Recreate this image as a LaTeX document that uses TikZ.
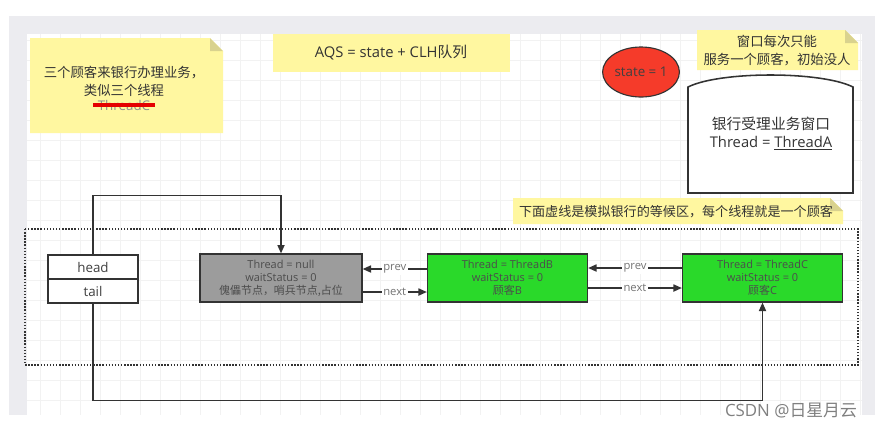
\documentclass[tikz,border=0pt]{standalone}
\usepackage{fontspec}
\setmainfont{Open Sans}
\newfontfamily\cjk{Noto Sans CJK SC}
\usetikzlibrary{arrows.meta,positioning,shapes.geometric}
\definecolor{notey}{HTML}{FFF7A0}
\definecolor{foldy}{HTML}{D9D28E}
\definecolor{frameg}{HTML}{ECECF0}
\definecolor{linegray}{HTML}{333333}
\definecolor{nodegreen}{HTML}{2AD92A}
\definecolor{nodegray}{HTML}{9C9C9C}
\definecolor{statered}{HTML}{F53B2A}
\begin{document}
\begin{tikzpicture}[
    x=0.025cm, y=-0.025cm,
    gridline/.style={draw=black!5, line width=0.4pt},
    notetext/.style={align=center, text=black!80, font=\fontsize{9.5}{12.8}\selectfont\cjk},
    cell/.style={draw=linegray, line width=0.8pt, fill=white, minimum width=2.25cm, minimum height=0.6cm, inner sep=0pt, font=\fontsize{9.5}{12}\selectfont, text=black!75},
    qnode/.style={draw=linegray, line width=0.8pt, minimum width=4cm, minimum height=1.2cm, align=center, text=black!70, font=\fontsize{7.8}{9.3}\selectfont},
    link/.style={draw=linegray, line width=1.1pt, -{Triangle[length=6pt,width=5pt]}},
    linklabel/.style={fill=white, inner sep=1pt, text=black!55, font=\fontsize{8}{9}\selectfont}
]
\useasboundingbox (0,0) rectangle (875,430);
\fill[white] (0,0) rectangle (875,430);
\fill[frameg] (9,16) rectangle (875,415);
\fill[white] (27,34) rectangle (862,415);
% faint canvas grid
\foreach \gx in {40,60,...,860} {
    \draw[gridline] (\gx,34) -- (\gx,415);
}
\foreach \gy in {40,60,...,410} {
    \draw[gridline] (27,\gy) -- (862,\gy);
}

% sticky notes
\fill[notey] (273,34) rectangle (510,72);
\foreach \xa/\ya/\xb/\yb in {30/38/223/133, 697/30/858/70, 513/198/843/224} {
    \fill[notey] (\xa,\ya) -- (\xb-13,\ya) -- (\xb,\ya+13) -- (\xb,\yb) -- (\xa,\yb) -- cycle;
    \fill[foldy] (\xb-13,\ya) -- (\xb-13,\ya+13) -- (\xb,\ya+13) -- cycle;
}
\node[notetext] (customers) at (124,81) {三个顾客来银行办理业务，\\类似三个线程};
\node[notetext, text=black!45, inner sep=1pt, font=\fontsize{9.5}{12}\selectfont] (threadc) at (124,105) {ThreadC};
\draw[red!90!black, line width=2.2pt] ([xshift=-2pt]threadc.west) -- ([xshift=2pt]threadc.east);
\node[notetext, font=\fontsize{10.5}{12}\selectfont] (aqs) at (391,53) {AQS = state + CLH{\cjk 队列}};
\node[notetext] (onlyone) at (777,51) {窗口每次只能\\服务一个顾客，初始没人};
\node[notetext, font=\fontsize{9.3}{11}\selectfont\cjk] (waitarea) at (676,212) {下面虚线是模拟银行的等候区，每个线程就是一个顾客};

% state and the window
\node[ellipse, draw=linegray, line width=0.8pt, fill=statered, minimum width=1.92cm, minimum height=1.25cm, inner sep=0pt, font=\fontsize{9.5}{11}\selectfont, text=black!75] (state) at (641,72) {state = 1};
\draw[linegray, line width=1.1pt, fill=white] (688,193) -- (688,87) .. controls (720,71) and (821,71) .. (853,87) -- (853,193) -- cycle;
\node[notetext, font=\fontsize{10.5}{12.5}\selectfont] (window) at (771,134) {{\cjk 银行受理业务窗口}\\Thread = \underline{ThreadA}};

% waiting queue
\draw[linegray, line width=1.2pt, dash pattern=on 1pt off 1.2pt] (25,229) rectangle (858,365);
\node[cell] (head) at (93,267) {head};
\node[cell] (tail) at (93,291) {tail};
\node[qnode, fill=nodegray, minimum width=4.05cm] (dummy) at (281,278) {Thread = null\\waitStatus = 0\\{\cjk 傀儡节点，哨兵节点,占位}};
\node[qnode, fill=nodegreen] (nodeb) at (507.5,278) {Thread = ThreadB\\waitStatus = 0\\{\cjk 顾客}B};
\node[qnode, fill=nodegreen] (nodec) at (762.5,278) {Thread = ThreadC\\waitStatus = 0\\{\cjk 顾客}C};

\draw[link] (head.north) -- ++(0,-59) -| (dummy.north);
\draw[link] (tail.south) -- ++(0,97) -| (nodec.south);
\draw[link] ([yshift=0.225cm]nodeb.west) -- node[linklabel] {prev} ([yshift=0.225cm]dummy.east);
\draw[link] ([yshift=-0.35cm]dummy.east) -- node[linklabel] {next} ([yshift=-0.35cm]nodeb.west);
\draw[link] ([yshift=0.25cm]nodec.west) -- node[linklabel] {prev} ([yshift=0.25cm]nodeb.east);
\draw[link] ([yshift=-0.25cm]nodeb.east) -- node[linklabel] {next} ([yshift=-0.25cm]nodec.west);

\node[text=black!50, font=\fontsize{12}{14}\selectfont] (mark) at (791,411) {CSDN @{\cjk 日星月云}};
\end{tikzpicture}
\end{document}
